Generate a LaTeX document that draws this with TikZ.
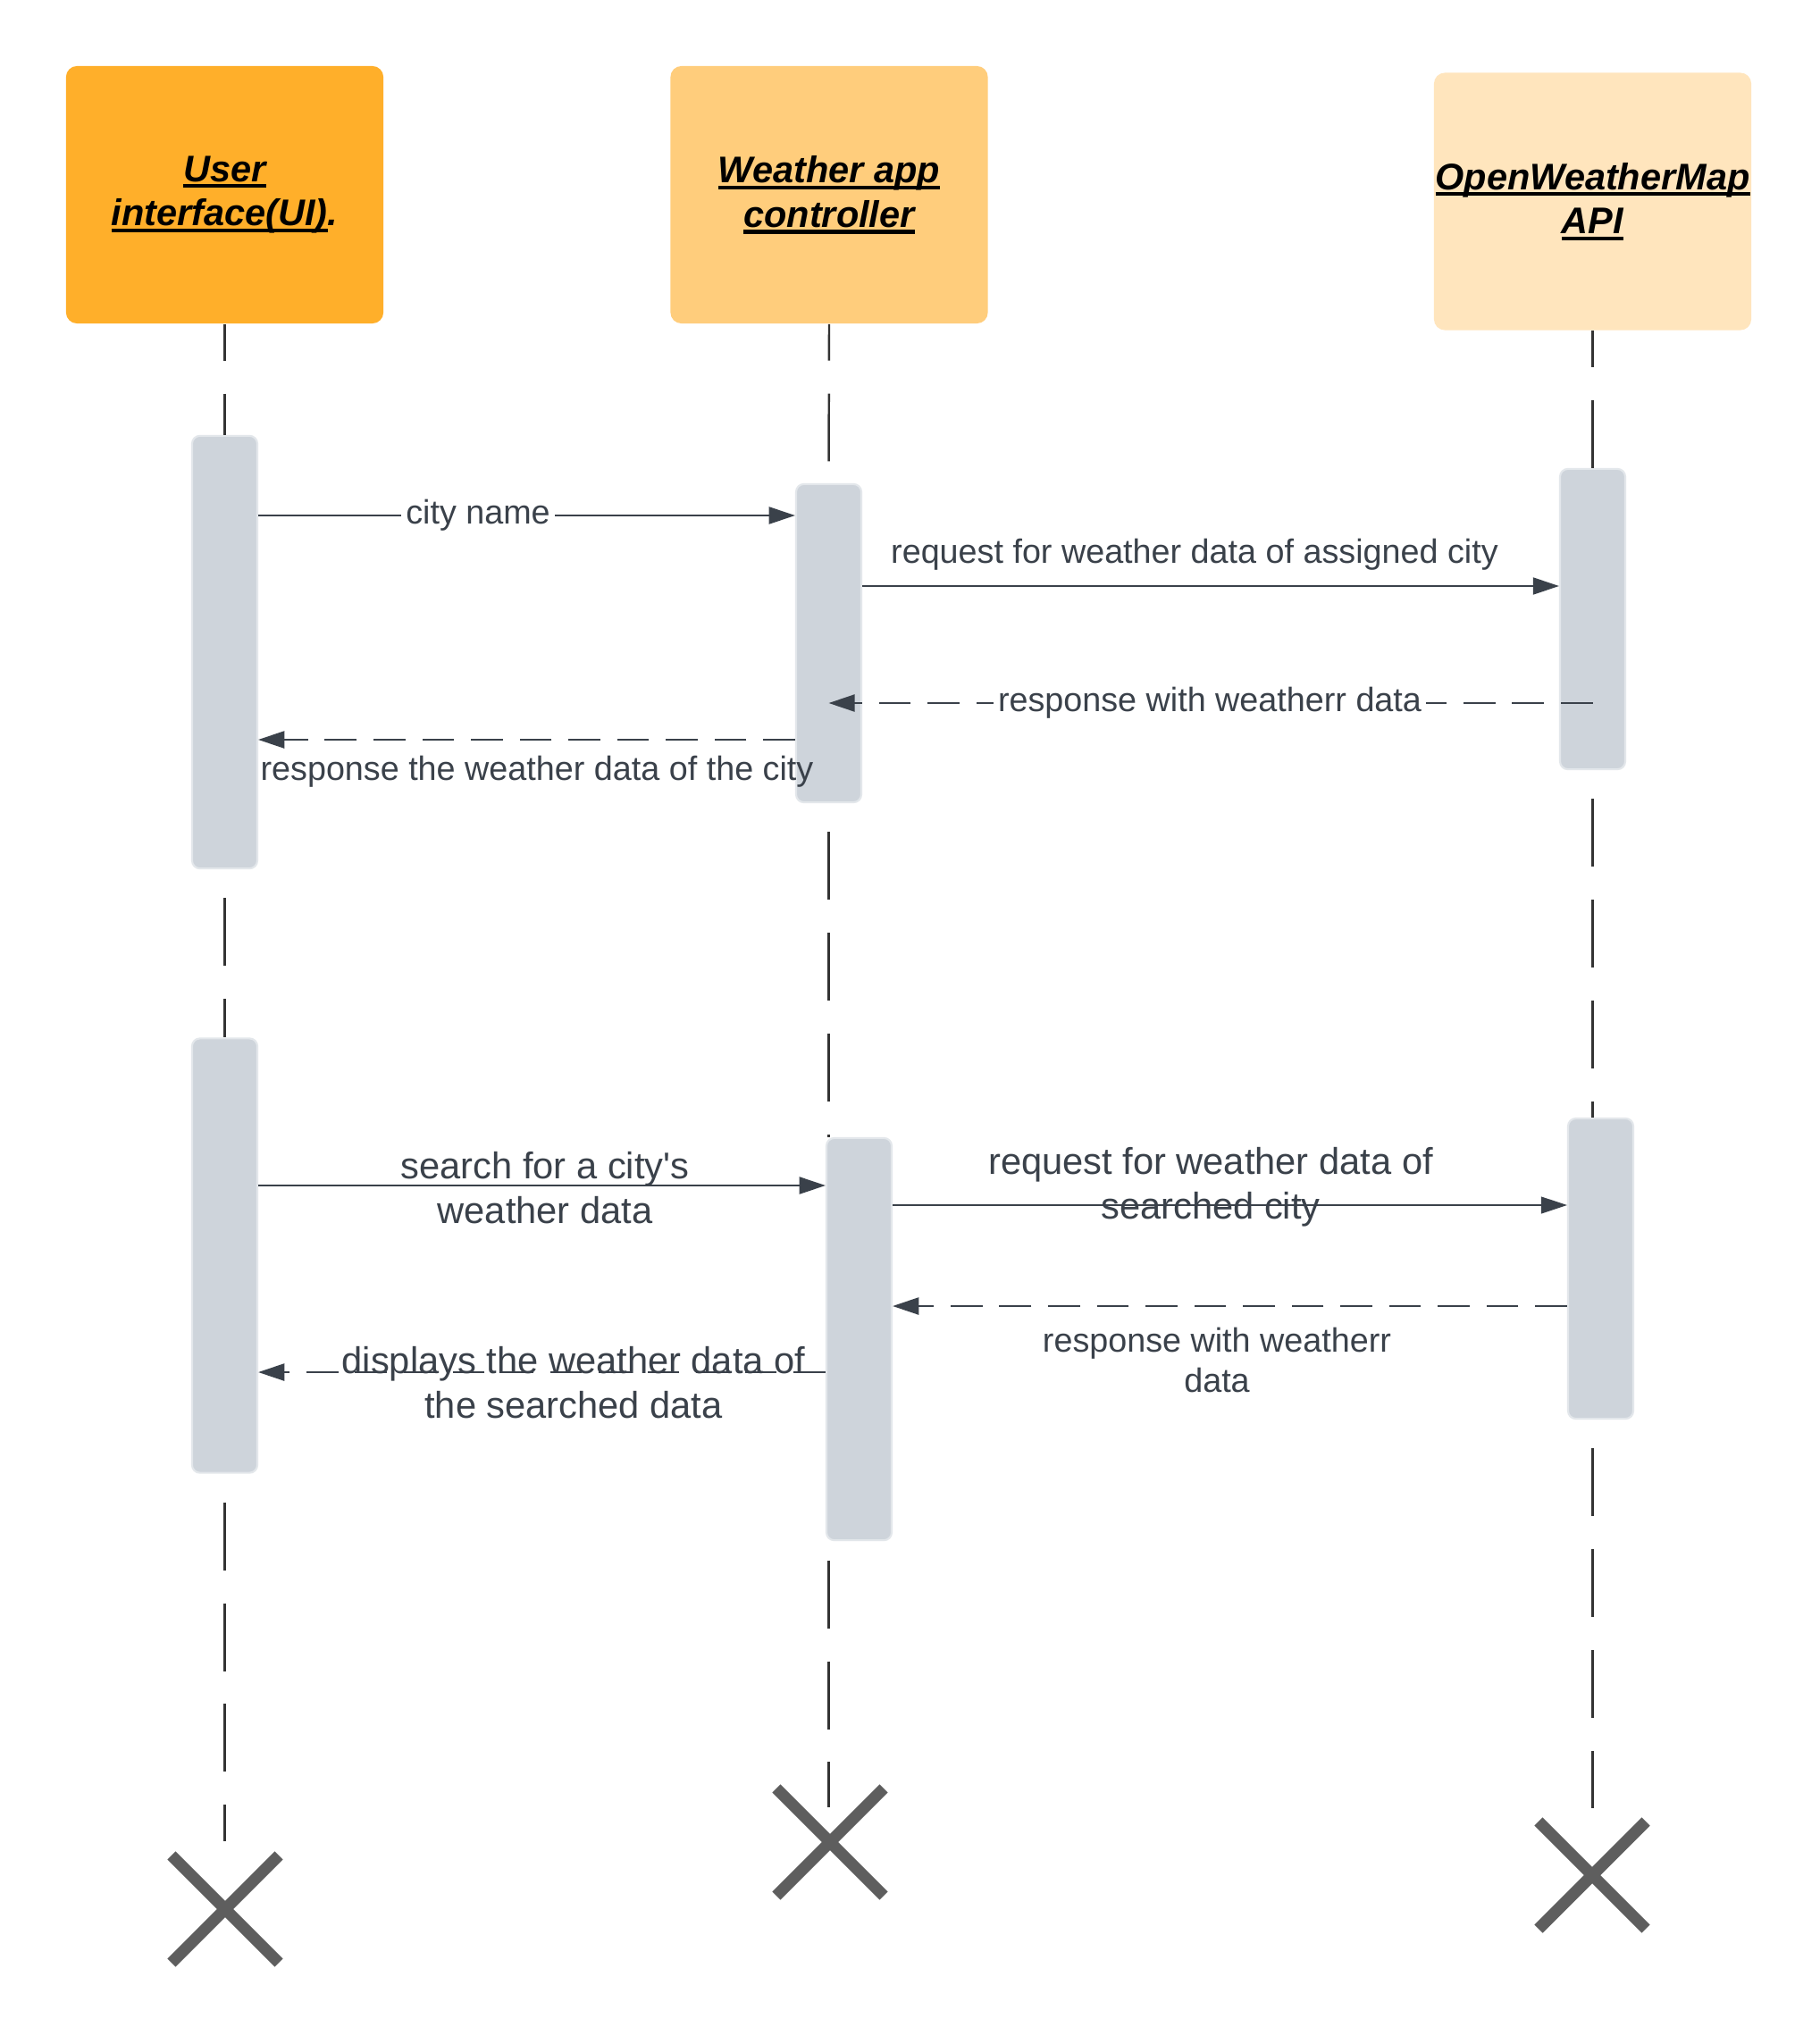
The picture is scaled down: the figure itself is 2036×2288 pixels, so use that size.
\documentclass[tikz,border=0pt]{standalone}
\usepackage{fontspec}
\setmainfont{Liberation Sans}[Ligatures=TeXOff]
\usetikzlibrary{arrows.meta,shapes.misc}
\definecolor{uiorange}{HTML}{FFAF2A}
\definecolor{ctrlorange}{HTML}{FFCD7C}
\definecolor{apiorange}{HTML}{FFE5BD}
\definecolor{actfill}{HTML}{CED4DB}
\definecolor{actline}{HTML}{E3E7EB}
\definecolor{msgcol}{HTML}{3A414A}
\definecolor{lifecol}{HTML}{333333}
\definecolor{xcol}{HTML}{5E5E5E}
\newcommand\hul[1]{\setbox0\hbox{#1}\rlap{\rule[-2pt]{\wd0}{1.15pt}}\box0}
\begin{document}
\begin{tikzpicture}[x=0.01cm,y=-0.01cm,
 head/.style={rectangle,rounded corners=3.5pt,minimum width=3.55cm,minimum height=2.88cm,inner sep=0pt,align=center,text=black,font=\fontsize{11.8pt}{14.2pt}\selectfont\bfseries\itshape},
 act/.style={rectangle,rounded corners=2.5pt,fill=actfill,draw=actline,line width=0.6pt,minimum width=0.73cm,inner sep=0pt},
 life/.style={draw=lifecol,line width=0.7pt,dash pattern=on 21.6pt off 10.5pt},
 msg/.style={draw=msgcol,line width=0.6pt,-{Triangle[length=8.3pt,width=5.4pt]}},
 reply/.style={msg,line width=0.7pt,dash pattern=on 10.2pt off 5.3pt},
 lbl/.style={text=msgcol,inner sep=1.5pt,align=center,font=\fontsize{10.73pt}{12.8pt}\selectfont},
 lblbig/.style={lbl,font=\fontsize{11.84pt}{14.2pt}\selectfont},
 xend/.style={cross out,draw=xcol,line width=3.7pt,minimum size=1.2cm,inner sep=0pt,outer sep=0pt}
]
\fill[white] (0,0) rectangle (2036,2288);
\useasboundingbox (0,0) rectangle (2036,2288);

% heads
\node[head,fill=uiorange] (uih) at (251.5,218) {\hul{User}\\\hul{interface(UI)}.};
\node[head,fill=ctrlorange] (ch) at (928,218) {\hul{Weather app}\\\hul{controller}};
\node[head,fill=apiorange] (ah) at (1782.5,225.5) {\hul{OpenWeatherMap}\\\hul{API}};

% activations
\node[act,minimum height=4.84cm] (ui1) at (251.5,730) {};
\node[act,minimum height=3.56cm] (c1) at (927.5,720) {};
\node[act,minimum height=3.36cm] (a1) at (1782.5,693) {};
\node[act,minimum height=4.86cm] (ui2) at (251.5,1405.5) {};
\node[act,minimum height=4.5cm] (c2) at (961.5,1499) {};
\node[act,minimum height=3.36cm] (a2) at (1791.5,1420) {};

% lifeline ends
\coordinate (uiend) at (251.5,2061);
\coordinate (cend) at (927.5,2023);
\coordinate (aend) at (1782.5,2024);

% lifelines
\draw[life,dash phase=10pt] (uih.south) -- (ui1.north);
\draw[life,dash phase=23pt] (ui1.south) -- (ui2.north);
\draw[life,dash phase=23pt] (ui2.south) -- (uiend);
\draw[life,dash phase=10pt] (ch.south) -- (c1.north);
\draw[life,dash phase=23pt] (c1.south) -- (c1.south |- c2.north);
\draw[life,dash phase=26pt] (c1.south |- c2.south) -- (cend);
\draw[life,dash phase=10pt] (ah.south) -- (a1.north);
\draw[life,dash phase=23pt] (a1.south) -- (a1.south |- a2.north);
\draw[life,dash phase=23pt] (a1.south |- a2.south) -- (aend);

% end crosses
\node[xend] (uix) at (252,2137) {};
\node[xend] (cx) at (929,2062) {};
\node[xend] (ax) at (1782,2099) {};

% messages, first exchange
\draw[msg] (ui1.east |- 0,577) -- (c1.west |- 0,577);
\node[lbl,fill=white] (m1) at (535,577) {city name};
\draw[msg] (c1.east |- 0,656) -- (a1.west |- 0,656);
\node[lbl] (m2) at (1337,621) {request for weather data of assigned city};
\draw[reply] (a1.center |- 0,787) -- (c1.center |- 0,787);
\node[lbl,fill=white] (m3) at (1354,787) {response with weatherr data};
\draw[reply] (c1.west |- 0,828) -- (ui1.east |- 0,828);
\node[lbl] (m4) at (601,864) {response the weather data of the city};

% messages, second exchange
\draw[msg] (ui2.east |- 0,1327) -- (c2.west |- 0,1327);
\node[lblbig] (m5) at (610,1330) {search for a city's\\weather data};
\draw[msg,line width=0.35pt] (c2.east |- 0,1349) -- (a2.west |- 0,1349);
\node[lblbig] (m6) at (1355,1329) {request for weather data of\\searched city};
\draw[reply] (a2.west |- 0,1462) -- (c2.east |- 0,1462);
\node[lbl] (m7) at (1362,1522) {response with weatherr\\data};
\draw[reply] (c2.west |- 0,1536) -- (ui2.east |- 0,1536);
\node[lblbig] (m8) at (642,1548) {displays the weather data of\\the searched data};
\end{tikzpicture}
\end{document}
